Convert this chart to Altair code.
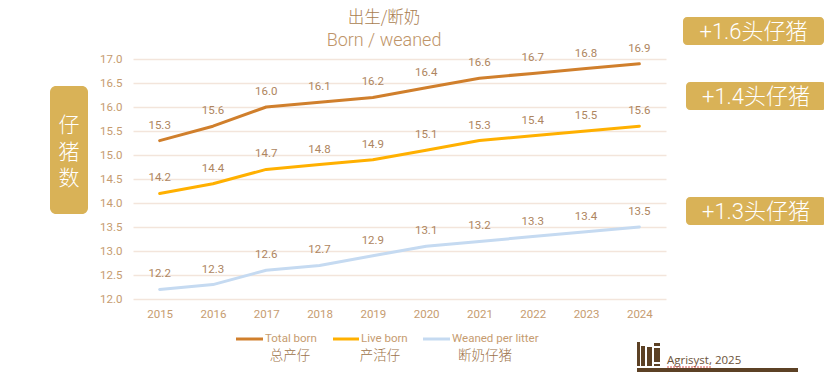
import altair as alt
import pandas as pd

years = ["2015", "2016", "2017", "2018", "2019", "2020", "2021", "2022", "2023", "2024"]
total_born = [15.3, 15.6, 16.0, 16.1, 16.2, 16.4, 16.6, 16.7, 16.8, 16.9]
live_born = [14.2, 14.4, 14.7, 14.8, 14.9, 15.1, 15.3, 15.4, 15.5, 15.6]
weaned = [12.2, 12.3, 12.6, 12.7, 12.9, 13.1, 13.2, 13.3, 13.4, 13.5]
series_names = ["Total born", "Live born", "Weaned per litter"]
series_cn = ["总产仔", "产活仔", "断奶仔猪"]
series_colors = ["#D07F2C", "#FFB000", "#C5DAF1"]
badges = ["+1.6头仔猪", "+1.4头仔猪", "+1.3头仔猪"]

PL, PT, PW, PH = 133, 59, 533, 240
LAT = "Roboto, 'Noto Sans CJK SC', sans-serif"
CJK = "'Noto Sans CJK SC', Roboto, sans-serif"
TICK = "#C69C70"
LABEL = "#AE8560"
GOLD = "#D9B257"
BROWN = "#5C4125"
GRID = "#F3E5DB"

rows = []
for name, vals in zip(series_names, [total_born, live_born, weaned]):
    for y, v in zip(years, vals):
        rows.append({"year": y, "value": v, "series": name, "label": f"{v:.1f}"})
df = pd.DataFrame(rows)

xs = alt.X("year:N", sort=years, title=None,
           scale=alt.Scale(paddingInner=0, paddingOuter=0.5),
           axis=alt.Axis(domain=False, ticks=False, labelAngle=0, labelColor=TICK, labelFontSize=11.5,
                         labelFont=LAT, labelPadding=9, grid=False))
ys = alt.Y("value:Q", title=None,
           scale=alt.Scale(domain=[12, 17], nice=False, zero=False),
           axis=alt.Axis(values=[12 + i * 0.5 for i in range(11)], format=".1f", domain=False, ticks=False,
                         labelColor=TICK, labelFontSize=11.5, labelFont=LAT, labelPadding=11,
                         gridColor=GRID, gridWidth=1.5))

base = alt.Chart(df).encode(x=xs, y=ys)
lines = base.mark_line(strokeWidth=3, strokeCap="round", strokeJoin="round").encode(
    color=alt.Color("series:N", sort=series_names,
                    scale=alt.Scale(domain=series_names, range=series_colors), legend=None),
    detail="series:N")
labels = base.mark_text(dy=-15, font=LAT, fontSize=11.5, color=LABEL).encode(text="label:N")


def px(v):
    return alt.value(v - PL)


def py(v):
    return alt.value(v - PT)


def box(x0, x1, y0, y1, color, radius=0):
    return alt.Chart(pd.DataFrame({"a": [0]})).mark_rect(color=color, cornerRadius=radius, clip=False).encode(
        x=px(x0), x2=px(x1), y=py(y0), y2=py(y1))


def rule(x0, x1, y, color, width=3, **kw):
    return alt.Chart(pd.DataFrame({"a": [0]})).mark_rule(color=color, strokeWidth=width, clip=False, **kw).encode(
        x=px(x0), x2=px(x1), y=py(y))


def txt(s, x, y, size, color, font=LAT, align="center", **kw):
    return alt.Chart(pd.DataFrame({"t": [s]})).mark_text(
        fontSize=size, color=color, font=font, align=align, baseline="middle", clip=False, **kw
    ).encode(text="t:N", x=px(x), y=py(y))


layers = [lines, labels]

# title
layers += [txt("出生/断奶", 384, 18, 16.5, "#A97D50", CJK, fontWeight=300),
           txt("Born / weaned", 384, 41, 18, "#BE9468", fontWeight=300)]

# side label
layers.append(box(50, 88, 86, 214, GOLD, 6))
for ch, y in zip("仔猪数", [126, 153, 179]):
    layers.append(txt(ch, 69, y, 21, "#FFFFFF", CJK, fontWeight=300))

# badges
for s, (x0, x1, y0, y1) in zip(badges, [(683, 824, 17, 45), (686, 826, 82, 110), (686, 826, 197, 225)]):
    layers.append(box(x0, x1, y0, y1, GOLD, 4))
    layers.append(txt(s, (x0 + x1) / 2, (y0 + y1) / 2 + 1, 22, "#FFFFFF", LAT, fontWeight=300))

# legend
for name, cn, col, (x0, x1, tx, cx) in zip(series_names, series_cn, series_colors,
                                           [(236, 263, 265, 290), (333, 359, 361, 380), (423, 450, 452, 485)]):
    layers.append(rule(x0, x1, 339, col))
    layers.append(txt(name, tx, 339, 11.5, TICK, LAT, "left"))
    layers.append(txt(cn, cx, 356, 13.5, "#9C7248", CJK, fontWeight=300))

# source and icon
layers.append(box(637, 798, 368, 372, BROWN))
for x0, x1, y0, y1 in [(637, 640, 342, 366), (641, 645, 346, 366), (647, 652, 347, 366),
                       (654, 660, 343, 346), (654, 660, 348, 362), (654, 660, 364, 366)]:
    layers.append(box(x0, x1, y0, y1, BROWN))
layers.append(txt("Agrisyst, 2025", 667, 361, 11.5, "#6B5238", "'Open Sans', sans-serif", "left"))
layers.append(rule(667, 711, 367, "#D9534F", 1, strokeDash=[2, 1]))

chart = alt.layer(*layers).properties(
    width=PW, height=PH,
    padding={"left": PL - 8, "top": PT - 8, "right": 816 - (PL - 8) - PW, "bottom": 372 - (PT - 8) - PH},
    autosize=alt.AutoSizeParams(type="none"),
    background="white",
).configure_view(stroke=None)

chart.save("out.html", embed_options={"renderer": "svg", "actions": False})
